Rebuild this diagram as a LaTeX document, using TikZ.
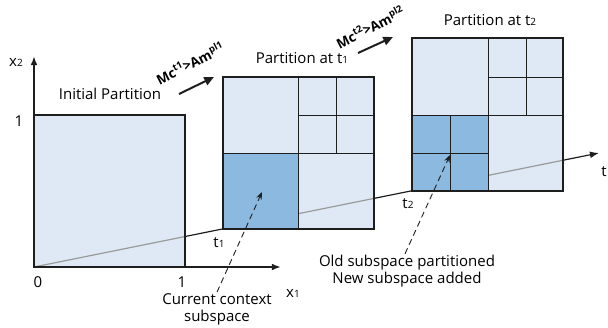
\documentclass[tikz,border=0pt]{standalone}
\usepackage{fontspec}
\setmainfont{Open Sans}
\usetikzlibrary{arrows.meta, positioning}
\definecolor{cellLight}{HTML}{DEE9F5}
\definecolor{cellDark}{HTML}{8BB9E0}
\definecolor{lineDark}{HTML}{1E1E1E}
\definecolor{lineGray}{HTML}{9A9A9A}
\newcommand{\low}[1]{{\fontsize{10}{11}\selectfont #1}}
\tikzset{
  axis/.style={-{Latex[length=3.2mm,width=2.4mm]}, lineDark, line width=1.7pt},
  taxis/.style={-{Latex[length=3.2mm,width=2.4mm]}, lineDark, line width=1.2pt},
  boxOuter/.style={draw=lineDark, line width=1.7pt},
  cellLine/.style={draw=lineDark, line width=0.9pt},
  stepArrow/.style={-{Triangle[length=3.4mm,width=3mm]}, lineDark, line width=2pt},
  pointer/.style={-{Stealth[length=2.6mm,width=2mm]}, lineDark, line width=0.9pt,
                  dash pattern=on 6pt off 4pt},
  label/.style={font=\fontsize{15}{17}\selectfont, inner sep=1pt, align=center},
  rule/.style={font=\bfseries\fontsize{13.5}{15}\selectfont, inner sep=0pt, rotate=27},
}

\begin{document}
\begin{tikzpicture}[x=1pt, y=-1pt]
  \useasboundingbox (0,0) rectangle (608,327);
  \coordinate (O) at (34,267);
  \coordinate (tEnd) at (599,153);

  % time axis, hidden behind the partitions
  \draw[taxis] (O) -- (tEnd);

  % initial partition
  \fill[cellLight] (34,115) rectangle (185,267);

  % partition at t1
  \begin{scope}[shift={(223,77)}]
    \fill[cellLight] (0,0) rectangle (151,152);
  \end{scope}

  % partition at t2
  \begin{scope}[shift={(412,38)}]
    \fill[cellLight] (0,0) rectangle (151,153);
  \end{scope}

  % time axis seen through the boxes
  \begin{scope}
    \clip (34,115) rectangle (185,267) (223,77) rectangle (374,229)
          (412,38) rectangle (563,191);
    \draw[lineGray, line width=1.2pt] (O) -- (tEnd);
  \end{scope}

  \draw[boxOuter] (34,115) rectangle (185,267);

  \begin{scope}[shift={(223,77)}]
    \fill[cellDark] (0,76) rectangle (75,152);
    \draw[cellLine] (0,76) -- (151,76) (75,0) -- (75,152)
                    (113,0) -- (113,76) (75,38) -- (151,38);
    \draw[boxOuter] (0,0) rectangle (151,152);
  \end{scope}

  \begin{scope}[shift={(412,38)}]
    \fill[cellDark] (0,77) rectangle (76,153);
    \draw[cellLine] (0,77) -- (151,77) (76,0) -- (76,153)
                    (114,0) -- (114,77) (76,39) -- (151,39)
                    (38,77) -- (38,153) (0,115) -- (76,115);
    \draw[boxOuter] (0,0) rectangle (151,153);
  \end{scope}

  % axes
  \draw[axis] (O) -- (34,56);
  \draw[axis] (O) -- (281,267);

  \node[label] (x2) at (16,62) {x\low{2}};
  \node[label] (one2) at (19,121) {1};
  \node[label] (zero) at (38,282) {0};
  \node[label] (one1) at (182,282) {1};
  \node[label] (x1) at (293,293) {x\low{1}};
  \node[label] (t1) at (219,243) {t\low{1}};
  \node[label] (t2) at (408,204) {t\low{2}};
  \node[label] (t) at (604,172) {t};

  \node[label] (init) at (110,94) {Initial Partition};
  \node[label] (part1) at (302,58) {Partition at t\low{1}};
  \node[label] (part2) at (490,20) {Partition at t\low{2}};

  % adaptation steps
  \node[rule] (rule1) at (190,63) {Mc\textsuperscript{t1}>Am\textsuperscript{pl1}};
  \coordinate (r1a) at (179,94);
  \coordinate (r1b) at (214,77);
  \draw[stepArrow] (r1a) -- (r1b);
  \node[rule] (rule2) at (370,27) {Mc\textsuperscript{t2}>Am\textsuperscript{pl2}};
  \coordinate (r2a) at (358,53);
  \coordinate (r2b) at (393,37);
  \draw[stepArrow] (r2a) -- (r2b);

  % annotations
  \node[label] (cur) at (217,309) {Current context\\subspace};
  \coordinate (curTip) at (262,192);
  \draw[pointer] (cur.north) -- (curTip);
  \node[label] (old) at (407,271) {Old subspace partitioned\\New subspace added};
  \coordinate (oldTip) at (450,155);
  \draw[pointer] ([xshift=-2pt]old.north) -- (oldTip);
\end{tikzpicture}
\end{document}
